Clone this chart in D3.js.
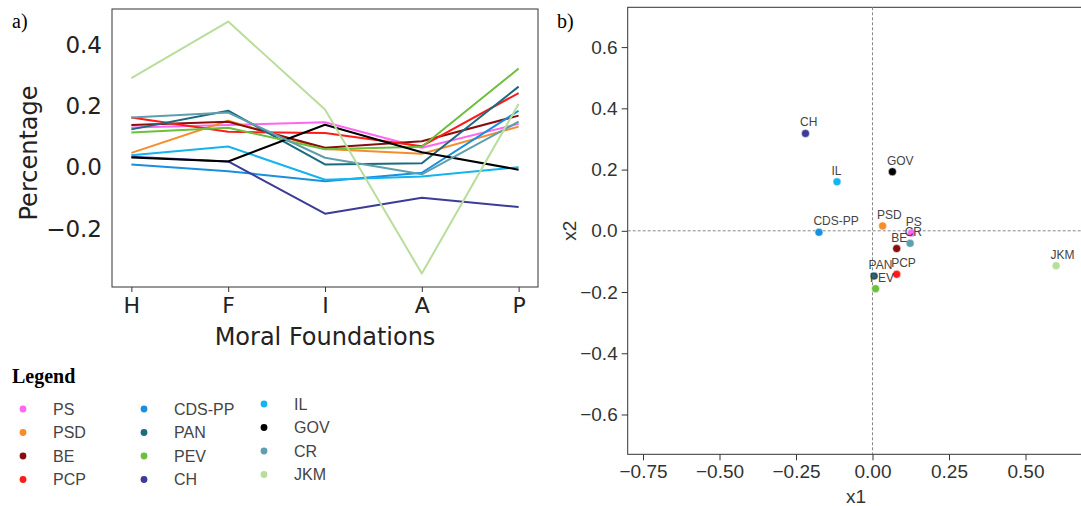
<!DOCTYPE html>
<html>
<head>
<meta charset="utf-8">
<script src="https://cdn.jsdelivr.net/npm/d3@7"></script>
<style>
  body { margin: 0; background: #fff; }
  svg { display: block; }
</style>
</head>
<body>
<svg id="chart" width="1081" height="506"></svg>
<script>
// Parties, in legend order.
const parties = ["PS", "PSD", "BE", "PCP", "CDS-PP", "PAN", "PEV", "CH", "IL", "GOV", "CR", "JKM"];
const partyColors = ["#ff66f2", "#f58d2c", "#880e0e", "#ff1a1a", "#1a8fde", "#1a6b7c",
                     "#6cbf3c", "#3b3b98", "#14b4ee", "#000000", "#5f9eae", "#b9dd9b"];

// Moral foundations (x axis of panel a).
const foundations = ["H", "F", "I", "A", "P"];

// Percentage per party for each foundation (H, F, I, A, P).
const pctPS    = [0.131, 0.139, 0.148, 0.065, 0.143];
const pctPSD   = [0.048, 0.153, 0.061, 0.045, 0.134];
const pctBE    = [0.139, 0.150, 0.065, 0.086, 0.170];
const pctPCP   = [0.164, 0.117, 0.113, 0.070, 0.244];
const pctCDSPP = [0.010, -0.012, -0.045, -0.017, 0.186];
const pctPAN   = [0.125, 0.186, 0.010, 0.014, 0.265];
const pctPEV   = [0.115, 0.130, 0.060, 0.068, 0.324];
const pctCH    = [0.035, 0.020, -0.151, -0.099, -0.129];
const pctIL    = [0.040, 0.069, -0.040, -0.029, 0.001];
const pctGOV   = [0.033, 0.020, 0.140, 0.050, -0.007];
const pctCR    = [0.164, 0.180, 0.032, -0.022, 0.150];
const pctJKM   = [0.293, 0.478, 0.190, -0.347, 0.208];
const percentages = [pctPS, pctPSD, pctBE, pctPCP, pctCDSPP, pctPAN, pctPEV, pctCH, pctIL, pctGOV, pctCR, pctJKM];

// Projection coordinates per party (panel b).
const x1Values = [0.127, 0.033, 0.079, 0.079, -0.175, 0.005, 0.010, -0.219, -0.116, 0.065, 0.123, 0.600];
const x2Values = [-0.007, 0.016, -0.058, -0.142, -0.005, -0.148, -0.189, 0.318, 0.160, 0.193, -0.041, -0.114];

// Tick labels.
const leftYTicks = [-0.2, 0.0, 0.2, 0.4];
const rightXTicks = [-0.75, -0.50, -0.25, 0.00, 0.25, 0.50];
const rightYTicks = [-0.6, -0.4, -0.2, 0.0, 0.2, 0.4, 0.6];

const svg = d3.select("#chart");
const axisColor = "#333";

// ---------- Panel a: line chart ----------
const aLeft = 112, aRight = 538, aTop = 9, aBottom = 287;
const xA = d3.scaleLinear().domain([-0.2, 4.2]).range([aLeft, aRight]);
const yA = d3.scaleLinear().domain([-0.391, 0.519]).range([aBottom, aTop]);

const panelA = svg.append("g");

panelA.append("rect")
    .attr("x", aLeft).attr("y", aTop)
    .attr("width", aRight - aLeft).attr("height", aBottom - aTop)
    .attr("fill", "none").attr("stroke", axisColor).attr("stroke-width", 1);

const line = d3.line()
    .x((d, i) => xA(i))
    .y(d => yA(d));

panelA.selectAll("path.party")
    .data(percentages)
    .join("path")
    .attr("class", "party")
    .attr("d", line)
    .attr("fill", "none")
    .attr("stroke", (d, i) => partyColors[i])
    .attr("stroke-width", 2)
    .attr("stroke-linejoin", "round");

// x axis (foundation letters)
const xAxisA = d3.axisBottom(xA)
    .tickValues(d3.range(foundations.length))
    .tickFormat(i => foundations[i])
    .tickSize(5)
    .tickPadding(5);

panelA.append("g")
    .attr("transform", `translate(0,${aBottom})`)
    .call(xAxisA)
    .call(g => g.select(".domain").remove())
    .call(g => g.selectAll("line").attr("stroke", axisColor))
    .call(g => g.selectAll("text")
        .attr("font-family", "DejaVu Sans")
        .attr("font-size", 22)
        .attr("fill", "#222"));

// y axis (no tick marks, labels only)
const yAxisA = d3.axisLeft(yA)
    .tickValues(leftYTicks)
    .tickFormat(d3.format(".1f"))
    .tickSize(0)
    .tickPadding(10);

panelA.append("g")
    .attr("transform", `translate(${aLeft},0)`)
    .call(yAxisA)
    .call(g => g.select(".domain").remove())
    .call(g => g.selectAll("text")
        .attr("font-family", "DejaVu Sans")
        .attr("font-size", 23)
        .attr("fill", "#222"));

panelA.append("text")
    .attr("transform", `translate(37,${(aTop + aBottom) / 2 + 5}) rotate(-90)`)
    .attr("text-anchor", "middle")
    .attr("font-family", "DejaVu Sans")
    .attr("font-size", 24)
    .attr("fill", "#222")
    .text("Percentage");

panelA.append("text")
    .attr("x", (aLeft + aRight) / 2 + 0)
    .attr("y", 345)
    .attr("text-anchor", "middle")
    .attr("font-family", "DejaVu Sans")
    .attr("font-size", 24)
    .attr("fill", "#222")
    .text("Moral Foundations");

svg.append("text")
    .attr("x", 12).attr("y", 28)
    .attr("font-family", "Liberation Serif")
    .attr("font-size", 20)
    .text("a)");

// ---------- Legend ----------
const legend = svg.append("g");

legend.append("text")
    .attr("x", 12).attr("y", 383)
    .attr("font-family", "Liberation Serif")
    .attr("font-weight", "bold")
    .attr("font-size", 20)
    .text("Legend");

const legendCols = [23, 144, 264];
const legendColShift = [0, 0, -5];

const legendItem = legend.selectAll("g.item")
    .data(parties)
    .join("g")
    .attr("class", "item")
    .attr("transform", (d, i) => {
        const col = Math.floor(i / 4), row = i % 4;
        return `translate(${legendCols[col]},${409 + legendColShift[col] + row * 23.5})`;
    });

legendItem.append("circle")
    .attr("r", 3.4)
    .attr("fill", (d, i) => partyColors[i]);

legendItem.append("text")
    .attr("x", 30)
    .attr("dy", "0.35em")
    .attr("font-family", "Liberation Sans")
    .attr("font-size", 16)
    .attr("fill", "#444")
    .text(d => d);

// ---------- Panel b: scatter ----------
const bLeft = 627.7, bTop = 7.3, bBottom = 454.3;
const xB = d3.scaleLinear().domain([-0.8, 0.7]).range([bLeft, bLeft + 1.5 * 306]);
const yB = d3.scaleLinear().domain([-0.73, 0.73]).range([bBottom, bTop]);
const bRight = xB(0.7);

const panelB = svg.append("g");

panelB.append("rect")
    .attr("x", bLeft).attr("y", bTop)
    .attr("width", bRight - bLeft).attr("height", bBottom - bTop)
    .attr("fill", "none").attr("stroke", axisColor).attr("stroke-width", 1);

// zero reference lines
panelB.append("line")
    .attr("x1", xB(0)).attr("x2", xB(0))
    .attr("y1", bTop).attr("y2", bBottom)
    .attr("stroke", "#888").attr("stroke-width", 1).attr("stroke-dasharray", "3,2");

panelB.append("line")
    .attr("x1", bLeft).attr("x2", bRight)
    .attr("y1", yB(0)).attr("y2", yB(0))
    .attr("stroke", "#888").attr("stroke-width", 1).attr("stroke-dasharray", "3,2");

const xAxisB = d3.axisBottom(xB)
    .tickValues(rightXTicks)
    .tickFormat(d3.format(".2f"))
    .tickSize(6)
    .tickPadding(4);

panelB.append("g")
    .attr("transform", `translate(0,${bBottom})`)
    .call(xAxisB)
    .call(g => g.select(".domain").remove())
    .call(g => g.selectAll("line").attr("stroke", axisColor))
    .call(g => g.selectAll("text")
        .attr("font-family", "Liberation Sans")
        .attr("font-size", 19)
        .attr("fill", "#333"));

const yAxisB = d3.axisLeft(yB)
    .tickValues(rightYTicks)
    .tickFormat(d3.format(".1f"))
    .tickSize(6)
    .tickPadding(4);

panelB.append("g")
    .attr("transform", `translate(${bLeft},0)`)
    .call(yAxisB)
    .call(g => g.select(".domain").remove())
    .call(g => g.selectAll("line").attr("stroke", axisColor))
    .call(g => g.selectAll("text")
        .attr("font-family", "Liberation Sans")
        .attr("font-size", 19)
        .attr("fill", "#333"));

panelB.selectAll("circle.pt")
    .data(parties)
    .join("circle")
    .attr("class", "pt")
    .attr("cx", (d, i) => xB(x1Values[i]))
    .attr("cy", (d, i) => yB(x2Values[i]))
    .attr("r", 4)
    .attr("fill", (d, i) => partyColors[i])
    .attr("stroke", "#fff")
    .attr("stroke-width", 0.5);

panelB.selectAll("text.pt-label")
    .data(parties)
    .join("text")
    .attr("class", "pt-label")
    .attr("x", (d, i) => xB(x1Values[i]) - 5.5)
    .attr("y", (d, i) => yB(x2Values[i]) - 7)
    .attr("font-family", "Liberation Sans")
    .attr("font-size", 12)
    .attr("fill", "#444")
    .text(d => d);

panelB.append("text")
    .attr("x", 856).attr("y", 503)
    .attr("text-anchor", "middle")
    .attr("font-family", "Liberation Sans")
    .attr("font-size", 19)
    .attr("fill", "#333")
    .text("x1");

panelB.append("text")
    .attr("transform", `translate(576,${yB(0)}) rotate(-90)`)
    .attr("text-anchor", "middle")
    .attr("font-family", "Liberation Sans")
    .attr("font-size", 19)
    .attr("fill", "#333")
    .text("x2");

svg.append("text")
    .attr("x", 557).attr("y", 28)
    .attr("font-family", "Liberation Serif")
    .attr("font-size", 20)
    .text("b)");
</script>
</body>
</html>
